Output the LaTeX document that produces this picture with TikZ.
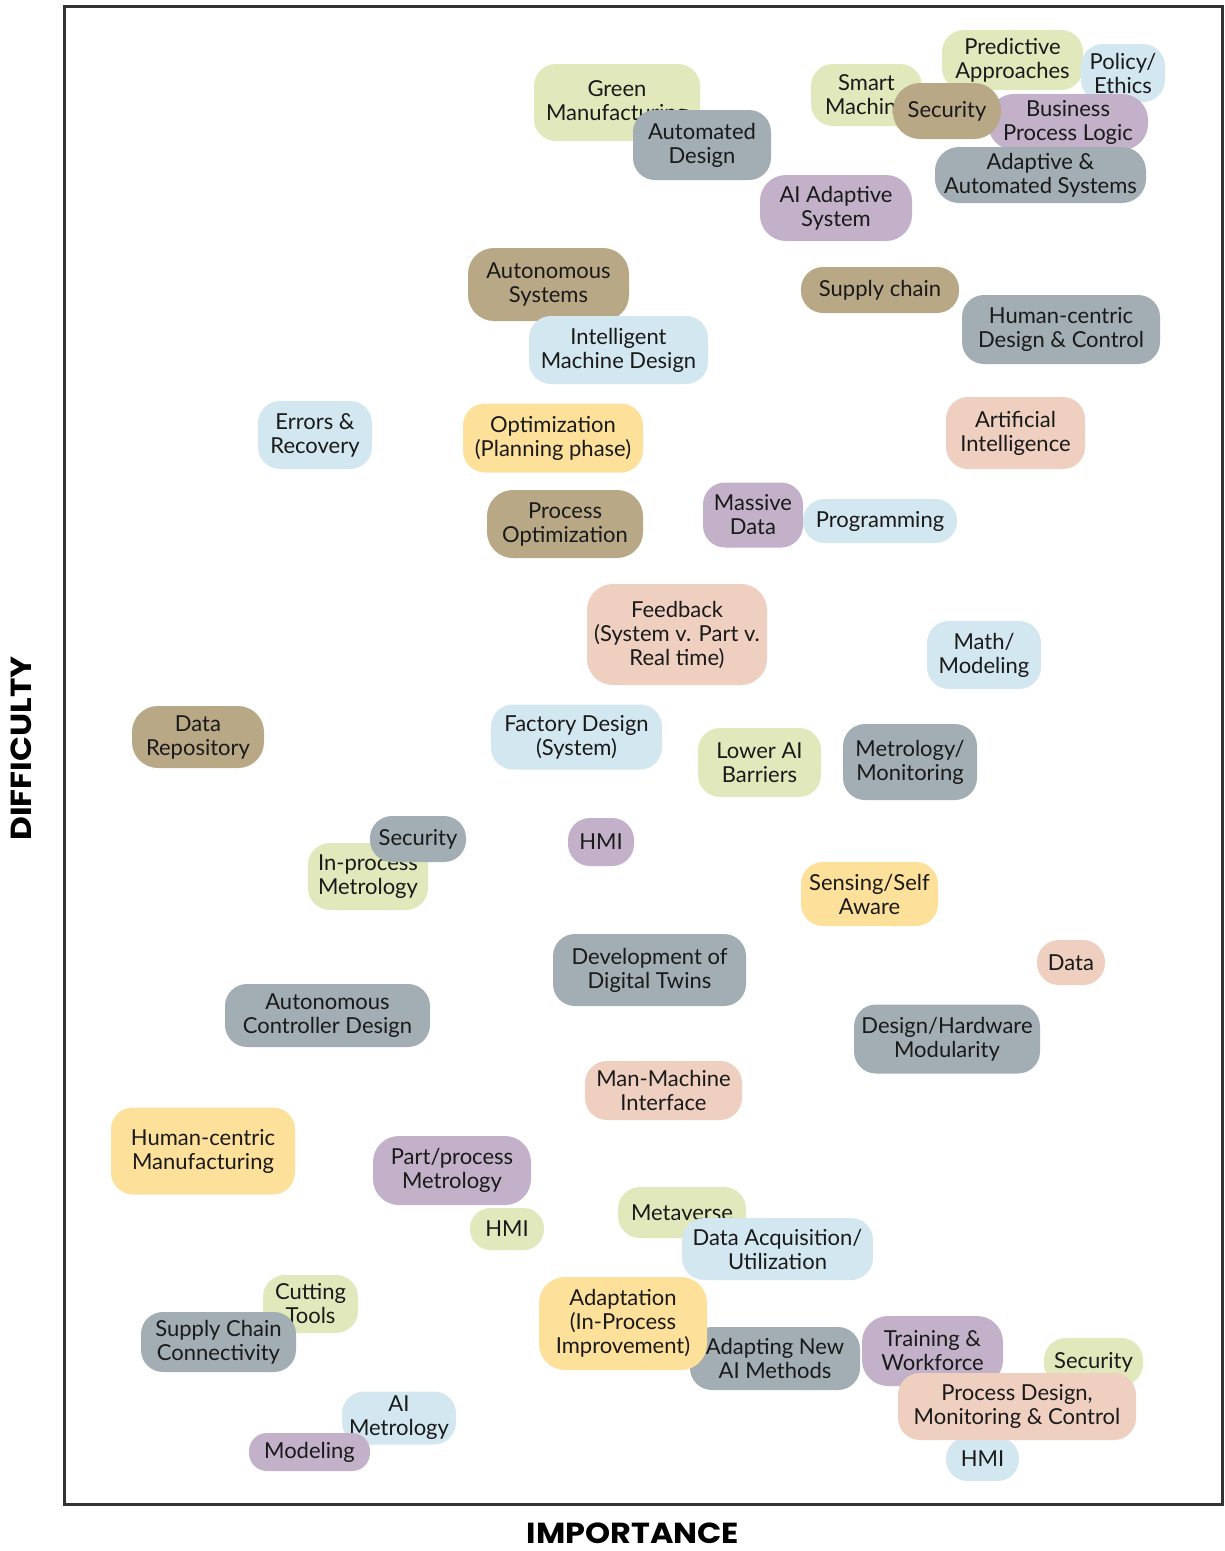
\documentclass[tikz,border=0pt]{standalone}
\usepackage{graphicx}
\usepackage{fontspec}
\setmainfont{Lato}
\newfontfamily\axisfont{Poppins}
\definecolor{cgreen}{HTML}{E1E9BC}
\definecolor{cblue}{HTML}{D3E7F1}
\definecolor{ctan}{HTML}{B9A886}
\definecolor{cgray}{HTML}{A2AEB3}
\definecolor{cpurple}{HTML}{C2B1C9}
\definecolor{cpeach}{HTML}{EECFC0}
\definecolor{cyellow}{HTML}{FDE09A}
\definecolor{ctext}{HTML}{1A1A1A}
\definecolor{cframe}{HTML}{333333}
\tikzset{
  bx/.style={rectangle, rounded corners=22pt, inner sep=0pt, align=center,
    text=ctext, font=\fontsize{22}{24}\selectfont},
  axislabel/.style={font=\axisfont\bfseries\fontsize{29}{30}\selectfont, text=black, inner sep=0pt}
}
\begin{document}
\begin{tikzpicture}[x=1pt,y=-1pt]
\useasboundingbox (0,0) rectangle (1225,1551);
\fill[white] (0,0) rectangle (1225,1551);
\draw[cframe, line width=3pt] (64.5,6.5) rectangle (1222.5,1504.5);

% top cluster
\node[bx, fill=cgreen, minimum width=166pt, minimum height=77pt] (greenman) at (617,102.5) {Green\\Manufacturing};
\node[bx, fill=cgray, minimum width=138pt, minimum height=70pt] (autodesign) at (702,145) {Automated\\Design};
\node[bx, fill=cgreen, minimum width=111pt, minimum height=62pt, text width=111pt] (smart) at (866.5,95) {Smart\\Machine};
\node[bx, fill=cgreen, minimum width=141pt, minimum height=60pt] (predictive) at (1012.5,60) {Predictive\\Approaches};
\node[bx, fill=cblue, minimum width=84pt, minimum height=58pt] (policy) at (1123,73) {Policy/\\Ethics};
\node[bx, fill=cpurple, minimum width=160pt, minimum height=56pt, rounded corners=26pt] (business) at (1068,122) {Business\\Process Logic};
\node[bx, fill=ctan, minimum width=108pt, minimum height=56pt, rounded corners=27pt] (security1) at (947,111) {Security};
\node[bx, fill=cgray, minimum width=211pt, minimum height=56pt, rounded corners=24pt] (adaptive) at (1040.5,175) {Adaptive \&\\Automated Systems};
\node[bx, fill=cpurple, minimum width=152pt, minimum height=66pt, rounded corners=26pt] (aiadaptive) at (836,208) {AI Adaptive\\System};

\node[bx, fill=ctan, minimum width=161pt, minimum height=73pt, rounded corners=26pt] (autonomous) at (548.5,284.5) {Autonomous\\Systems};
\node[bx, fill=cblue, minimum width=179pt, minimum height=68pt] (intelligent) at (618.5,350) {Intelligent\\Machine Design};
\node[bx, fill=ctan, minimum width=158pt, minimum height=46pt] (supply) at (880,290) {Supply chain};
\node[bx, fill=cgray, minimum width=198pt, minimum height=69pt] (humandesign) at (1061,329.5) {Human-centric\\Design \& Control};

\node[bx, fill=cblue, minimum width=114pt, minimum height=68pt] (errors) at (315,435) {Errors \&\\Recovery};
\node[bx, fill=cyellow, minimum width=180pt, minimum height=69pt] (optplan) at (553,438) {Optimization\\(Planning phase)};
\node[bx, fill=cpeach, minimum width=139pt, minimum height=72pt] (artificial) at (1015.5,433) {Artificial\\Intelligence};
\node[bx, fill=ctan, minimum width=156pt, minimum height=68pt, rounded corners=26pt] (procopt) at (565,524) {Process\\Optimization};
\node[bx, fill=cpurple, minimum width=100pt, minimum height=65pt] (massive) at (753,515) {Massive\\Data};
\node[bx, fill=cblue, minimum width=154pt, minimum height=44pt, rounded corners=21.5pt] (programming) at (880,521) {Programming};

\node[bx, fill=cpeach, minimum width=180pt, minimum height=101pt, rounded corners=26pt] (feedback) at (677,634.5) {Feedback\\(System v. Part v.\\Real time)};
\node[bx, fill=cblue, minimum width=114pt, minimum height=68pt] (math) at (984,655) {Math/\\Modeling};
\node[bx, fill=ctan, minimum width=132pt, minimum height=62pt, rounded corners=26pt] (datarepo) at (198,737) {Data\\Repository};
\node[bx, fill=cblue, minimum width=171pt, minimum height=65pt] (factory) at (576.5,737) {Factory Design\\(System)};
\node[bx, fill=cgreen, minimum width=123pt, minimum height=69pt] (lowerai) at (759.5,762.5) {Lower AI\\Barriers};
\node[bx, fill=cgray, minimum width=134pt, minimum height=76pt] (metromon) at (910,762) {Metrology/\\Monitoring};

\node[bx, fill=cgreen, minimum width=120pt, minimum height=67pt] (inprocess) at (368,876.5) {In-process\\Metrology};
\node[bx, fill=cgray, minimum width=96pt, minimum height=46pt] (security2) at (418,839) {Security};
\node[bx, fill=cpurple, minimum width=66pt, minimum height=48pt] (hmi1) at (601,842) {HMI};
\node[bx, fill=cyellow, minimum width=137pt, minimum height=64pt] (sensing) at (869.5,894) {Sensing/Self\\Aware};
\node[bx, fill=cpeach, minimum width=68pt, minimum height=45pt, rounded corners=22pt] (data) at (1071,962.5) {Data};
\node[bx, fill=cgray, minimum width=193pt, minimum height=72pt] (digitaltwins) at (649.5,970) {Development of\\Digital Twins};
\node[bx, fill=cgray, minimum width=205pt, minimum height=63pt] (autocontrol) at (327.5,1015.5) {Autonomous\\Controller Design};
\node[bx, fill=cgray, minimum width=186pt, minimum height=69pt] (modularity) at (947,1039) {Design/Hardware\\Modularity};
\node[bx, fill=cpeach, minimum width=157pt, minimum height=59pt] (manmachine) at (663.5,1090.5) {Man-Machine\\Interface};

\node[bx, fill=cyellow, minimum width=184pt, minimum height=87pt] (humanman) at (203,1151) {Human-centric\\Manufacturing};
\node[bx, fill=cpurple, minimum width=158pt, minimum height=69pt, rounded corners=26pt] (partproc) at (452,1170.5) {Part/process\\Metrology};
\node[bx, fill=cgreen, minimum width=74pt, minimum height=42pt, rounded corners=20.5pt] (hmi2) at (507,1229) {HMI};
\node[bx, fill=cgreen, minimum width=128pt, minimum height=51pt] (metaverse) at (682,1212.5) {Metaverse};
\node[bx, fill=cblue, minimum width=191pt, minimum height=62pt] (dataacq) at (777.5,1249) {Data Acquisition/\\Utilization};

\node[bx, fill=cgreen, minimum width=95pt, minimum height=58pt] (cutting) at (310.5,1304) {Cutting\\Tools};
\node[bx, fill=cgray, minimum width=155pt, minimum height=60pt] (supplyconn) at (218.5,1342) {Supply Chain\\Connectivity};
\node[bx, fill=cgray, minimum width=170pt, minimum height=63pt] (adaptnew) at (775,1358.5) {Adapting New\\AI Methods};
\node[bx, fill=cyellow, minimum width=168pt, minimum height=93pt, rounded corners=26pt] (adaptation) at (623,1323.5) {Adaptation\\(In-Process\\Improvement)};
\node[bx, fill=cpurple, minimum width=141pt, minimum height=70pt, rounded corners=26pt] (training) at (932.5,1351) {Training \&\\Workforce};
\node[bx, fill=cgreen, minimum width=99pt, minimum height=48pt] (security3) at (1093.5,1362) {Security};
\node[bx, fill=cblue, minimum width=73pt, minimum height=44pt, rounded corners=21.5pt] (hmi3) at (982.5,1459) {HMI};
\node[bx, fill=cpeach, minimum width=238pt, minimum height=67pt] (procdesign) at (1017,1406.5) {Process Design,\\Monitoring \& Control};

\node[bx, fill=cblue, minimum width=114pt, minimum height=53pt] (aimetro) at (399,1418) {AI\\Metrology};
\node[bx, fill=cpurple, minimum width=121pt, minimum height=38pt, rounded corners=18pt] (modeling) at (309.5,1452) {Modeling};

% axis labels
\node[axislabel, rotate=90] (difficulty) at (21,748.5) {\scalebox{1.13}[1]{DIFFICULTY}};
\node[axislabel] (importance) at (633,1533) {\scalebox{1.1}[1]{IMPORTANCE}};
\end{tikzpicture}
\end{document}
